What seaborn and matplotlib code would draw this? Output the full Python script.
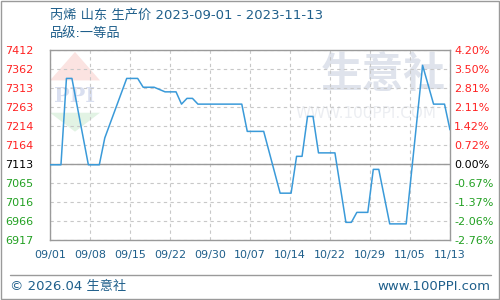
import matplotlib
matplotlib.use("Agg")
import matplotlib.pyplot as plt
import seaborn as sns
import numpy as np
import pandas as pd
from matplotlib.patches import Rectangle, Polygon

# ---- data ----
dates = ["2023-09-01", "2023-09-03", "2023-09-04", "2023-09-05", "2023-09-08",
         "2023-09-10", "2023-09-11", "2023-09-15", "2023-09-17", "2023-09-18",
         "2023-09-20", "2023-09-22", "2023-09-24", "2023-09-25", "2023-09-26",
         "2023-09-27", "2023-09-28", "2023-10-06", "2023-10-07", "2023-10-10",
         "2023-10-13", "2023-10-15", "2023-10-16", "2023-10-17", "2023-10-18",
         "2023-10-19", "2023-10-20", "2023-10-23", "2023-10-25", "2023-10-26",
         "2023-10-27", "2023-10-29", "2023-10-30", "2023-10-31", "2023-11-02",
         "2023-11-05", "2023-11-08", "2023-11-10", "2023-11-12", "2023-11-13"]
prices = [7113, 7113, 7338, 7338, 7113,
          7113, 7183, 7338, 7338, 7315,
          7315, 7303, 7303, 7271, 7286,
          7286, 7271, 7271, 7200, 7200,
          7039, 7039, 7135, 7135, 7239,
          7239, 7144, 7144, 6963, 6963,
          6989, 6989, 7101, 7101, 6959,
          6959, 7372, 7271, 7271, 7204]
x_labels = ["09/01", "09/08", "09/15", "09/22", "09/30", "10/07",
            "10/14", "10/22", "10/29", "11/05", "11/13"]
y_labels = ["6917", "6966", "7016", "7065", "7113", "7164",
            "7214", "7263", "7313", "7362", "7412"]
pct_labels = ["-2.76%", "-2.06%", "-1.37%", "-0.67%", "0.00%", "0.72%",
              "1.42%", "2.11%", "2.81%", "3.50%", "4.20%"]
title = "丙烯 山东 生产价 2023-09-01 - 2023-11-13"
subtitle = "品级:一等品"

sns.set_style("white")
plt.rcParams['font.family'] = ['Noto Sans CJK SC', 'DejaVu Sans']
mixed = ['DejaVu Sans', 'Noto Sans CJK SC']

dt = pd.to_datetime(dates)
df = pd.DataFrame({"day": (dt - dt[0]).days, "price": prices})
span = df["day"].iloc[-1]

fig = plt.figure(figsize=(5, 3), dpi=100)
ax = fig.add_axes([0.1, 0.2, 0.8, 0.6333])

ymin, ymax = 6917, 7412
yt = np.linspace(ymin, ymax, 11)
xt = np.linspace(0, span, 11)

# watermark
ax.text(0.99, 0.98, "生意社", transform=ax.transAxes, ha="right", va="top",
        fontsize=30, color="#dfe3ec", fontweight="bold", zorder=0)
ax.text(0.965, 0.665, "WWW.100PPI.COM", transform=ax.transAxes, ha="right", va="center",
        fontsize=11, color="#eceef2", zorder=0, family="DejaVu Sans")
ax.add_patch(Polygon([[0.0, 0.84], [0.125, 0.84], [0.0625, 0.99]], closed=True,
                     transform=ax.transAxes, color="#fbe3e1", zorder=0, lw=0))
ax.text(0.0625, 0.76, "PPI", transform=ax.transAxes, ha="center", va="center",
        fontsize=15, color="#d9dff0", fontweight="bold", zorder=0, family="DejaVu Serif")
ax.add_patch(Polygon([[0.0, 0.67], [0.125, 0.67], [0.0625, 0.57]], closed=True,
                     transform=ax.transAxes, color="#e2f3e4", zorder=0, lw=0))

sns.lineplot(data=df, x="day", y="price", ax=ax, color="#3a9ad9", linewidth=1.1, zorder=3)

ax.set_xlim(0, span)
ax.set_ylim(ymin, ymax)
ax.set_xticks(xt)
ax.set_xticklabels(x_labels)
ax.set_yticks(yt)
ax.set_yticklabels(y_labels)
ax.set_xlabel("")
ax.set_ylabel("")
ax.grid(True, linestyle=(0, (3, 3)), color="#c8c8c8", linewidth=0.8)
ax.axhline(yt[4], color="#9a9a9a", linewidth=1.0, zorder=2)
for s in ax.spines.values():
    s.set_color("#9a9a9a")
    s.set_linewidth(1.0)

ax.tick_params(axis="x", length=0, pad=7, labelsize=8, labelcolor="#1f5f8b")
ax.tick_params(axis="y", length=0, pad=32, labelsize=8)
for lab in ax.get_xticklabels():
    lab.set_family("DejaVu Sans")
for i, lab in enumerate(ax.get_yticklabels()):
    lab.set_family("DejaVu Sans")
    lab.set_horizontalalignment("left")
    lab.set_color("#22a022" if i < 4 else ("#000000" if i == 4 else "#ff2222"))

ax2 = ax.twinx()
ax2.set_ylim(ymin, ymax)
ax2.set_yticks(yt)
ax2.set_yticklabels(pct_labels)
ax2.tick_params(axis="y", length=0, pad=3, labelsize=8)
for i, lab in enumerate(ax2.get_yticklabels()):
    lab.set_family("DejaVu Sans")
    lab.set_color("#22a022" if i < 4 else ("#000000" if i == 4 else "#ff2222"))
for s in ax2.spines.values():
    s.set_visible(False)

fig.text(0.1, 0.95, title, ha="left", va="center", fontsize=9.5, color="#1f5f8b",
         family=mixed)
fig.text(0.1, 0.89, subtitle, ha="left", va="center", fontsize=9.5, color="#1f5f8b",
         family=mixed)
fig.add_artist(plt.Line2D([0.02, 0.982], [0.083, 0.083], transform=fig.transFigure,
                          color="#9a9a9a", linewidth=1.0))
fig.text(0.02, 0.045, "© 2026.04 生意社", ha="left", va="center", fontsize=9.5,
         color="#1f5f8b", family=mixed)
fig.text(0.98, 0.045, "www.100PPI.com", ha="right", va="center", fontsize=9.5,
         color="#1f5f8b", family="DejaVu Sans")
fig.add_artist(Rectangle((0.001, 0.002), 0.997, 0.995, transform=fig.transFigure,
                         fill=False, edgecolor="#9a9a9a", linewidth=1.0))

fig.savefig("out.png", dpi=100)
